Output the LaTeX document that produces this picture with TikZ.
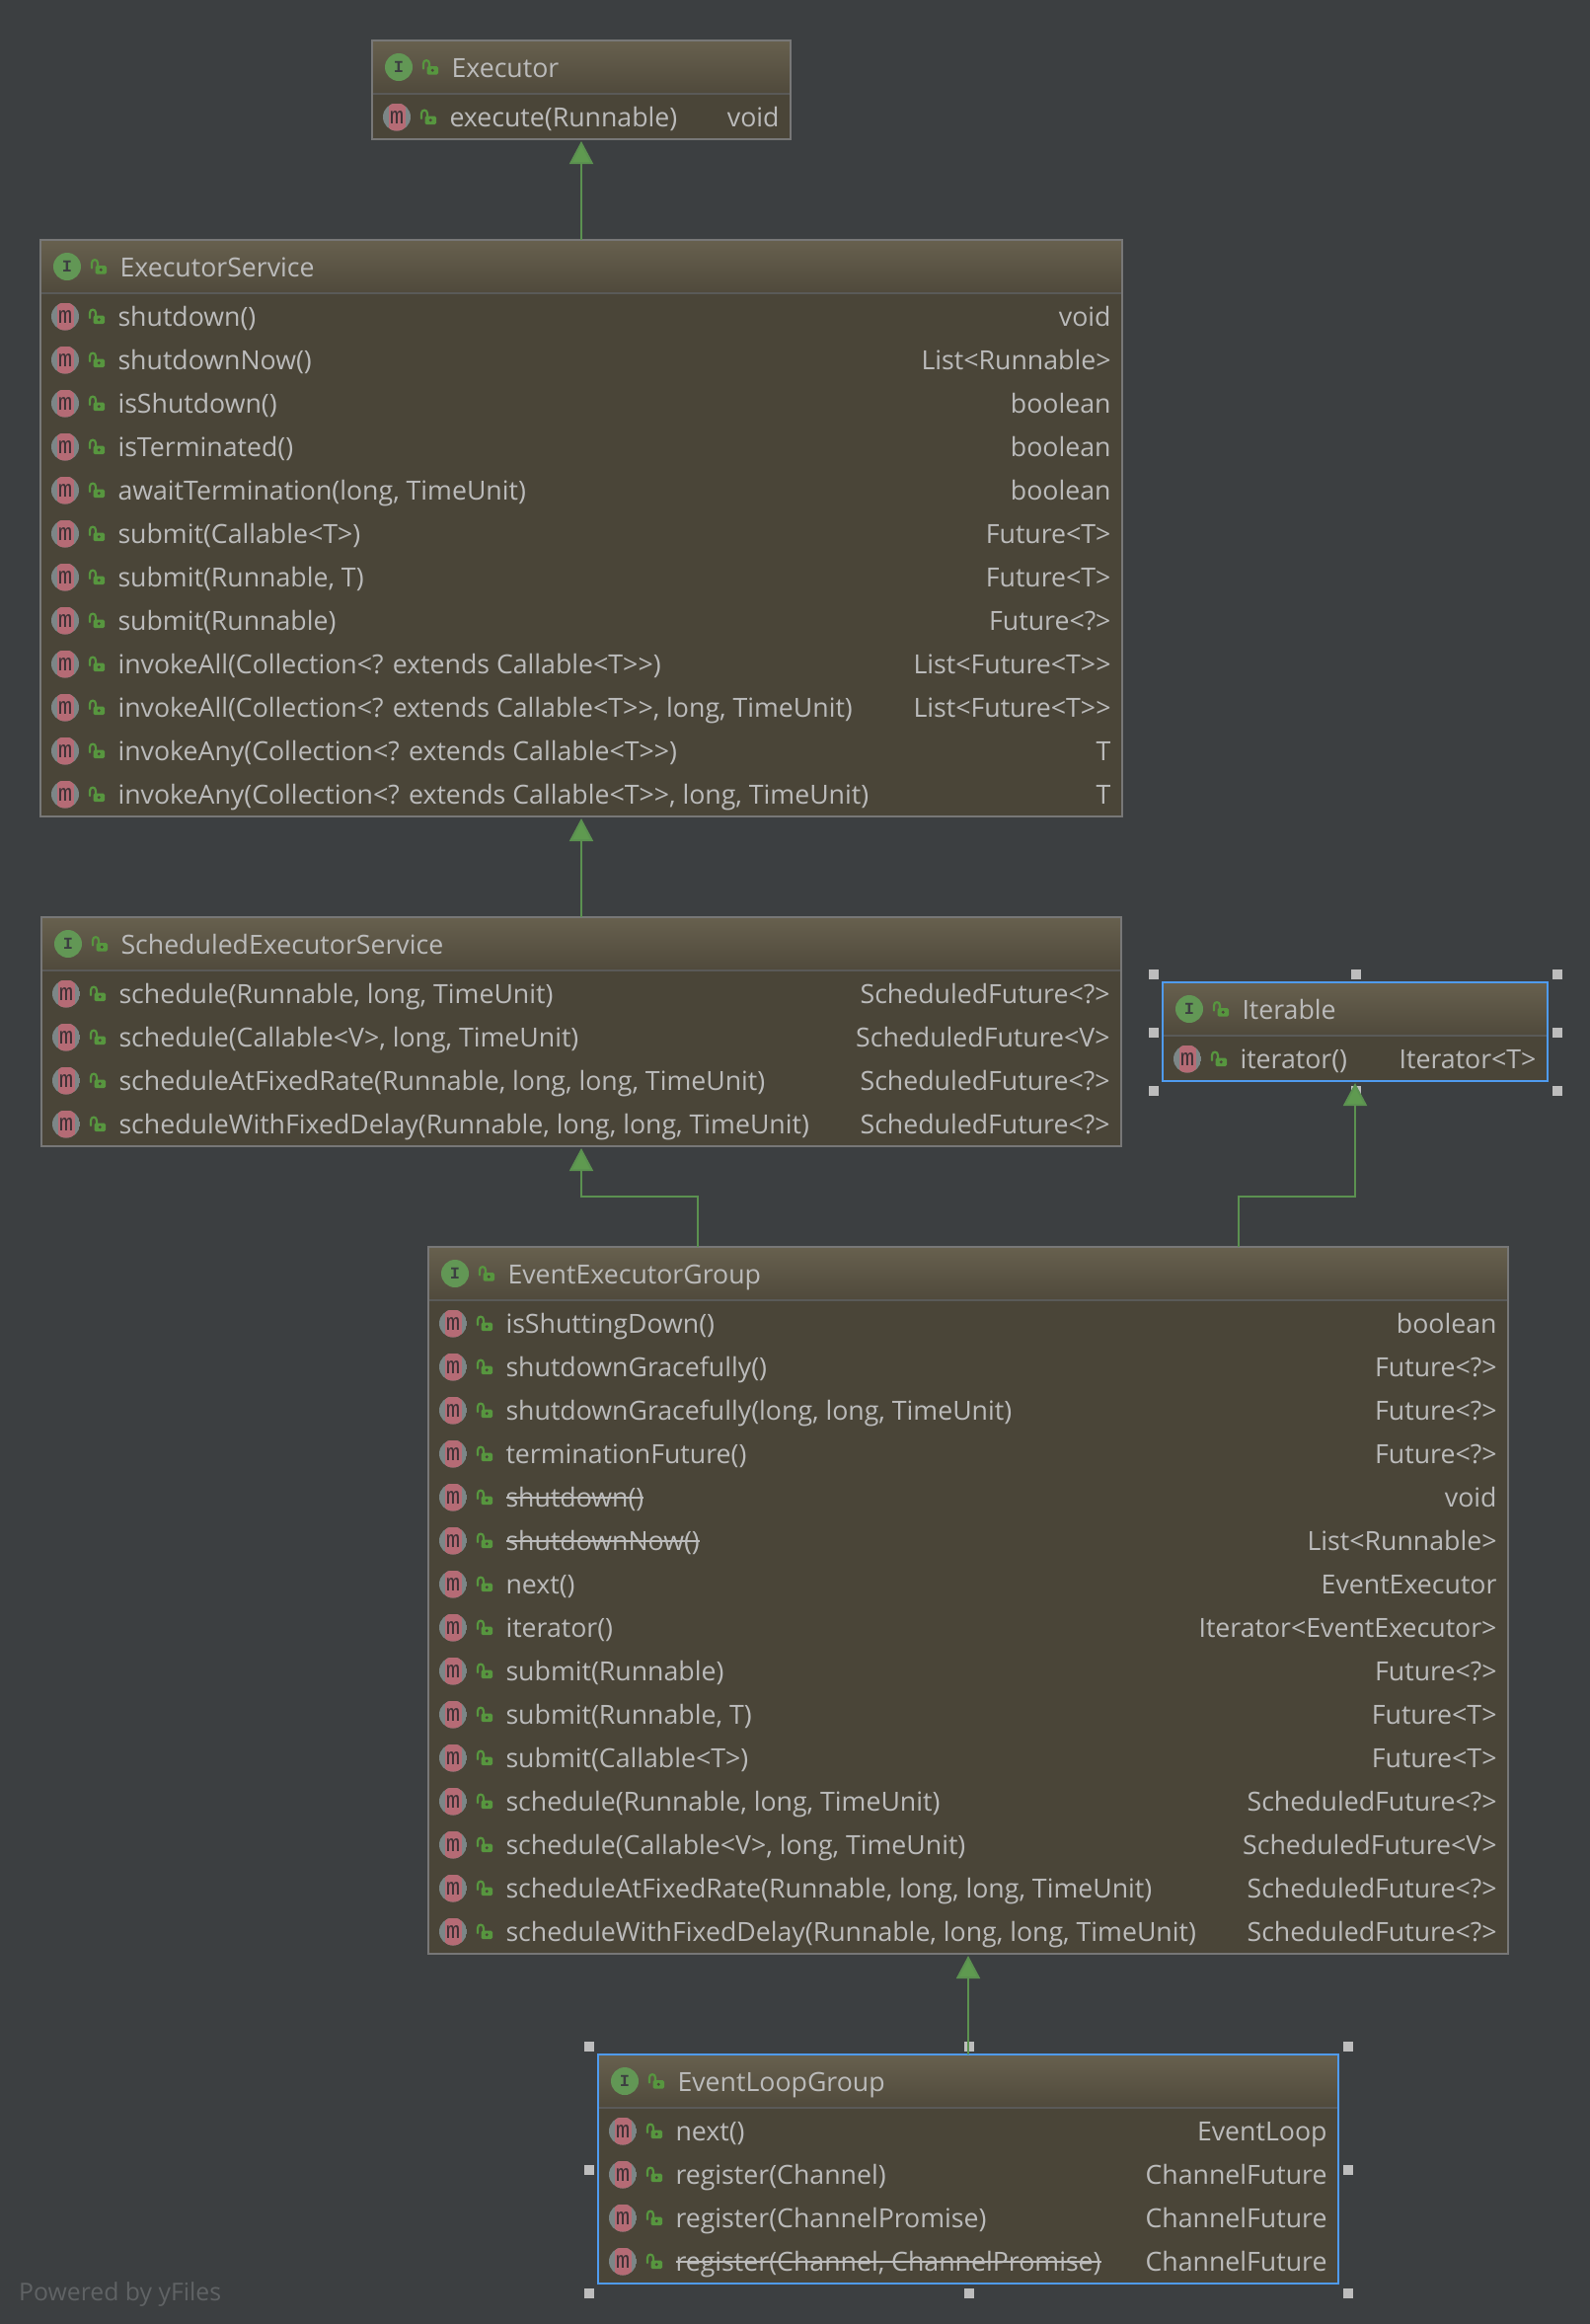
\documentclass[tikz,border=0pt]{standalone}
\usepackage{fontspec}
\setmainfont{Liberation Sans}
\newfontfamily\umlfont{Open Sans}
\newfontfamily\iconfont{Liberation Mono}
\usetikzlibrary{arrows.meta,calc}
\definecolor{bgc}{HTML}{3C3F41}
\definecolor{bodyc}{HTML}{4A4538}
\definecolor{headt}{HTML}{67604E}
\definecolor{headb}{HTML}{504A3C}
\definecolor{borderc}{HTML}{777777}
\definecolor{sepc}{HTML}{5A5A58}
\definecolor{selc}{HTML}{4F9BEF}
\definecolor{txtc}{HTML}{BBBBBB}
\definecolor{inhc}{HTML}{5B9150}
\definecolor{tipc}{HTML}{5F9A50}
\definecolor{lockc}{HTML}{57963F}
\definecolor{mgray}{HTML}{7C8687}
\definecolor{mpink}{HTML}{B56B75}
\definecolor{mdark}{HTML}{3F3236}
\definecolor{igreen}{HTML}{629755}
\definecolor{wmc}{HTML}{606365}
\definecolor{handc}{HTML}{BDBDBD}
\tikzset{
  x=1pt,y=-1pt,
  boxframe/.style={draw=borderc,line width=2pt,fill=bodyc,rectangle,inner sep=0pt,outer sep=0pt,anchor=north west},
  boxsel/.style={draw=selc},
  boxframeonly/.style={draw=borderc,line width=2pt,rectangle,inner sep=0pt,outer sep=0pt,anchor=north west},
  headfill/.style={rectangle,inner sep=0pt,outer sep=0pt,anchor=north west,top color=headt,bottom color=headb,draw=none},
  umltext/.style={text=txtc,inner sep=0pt,outer sep=0pt,font=\umlfont\fontsize{26.7}{30}\selectfont},
  handle/.style={rectangle,fill=handc,draw=none,minimum size=10pt,inner sep=0pt},
  inh/.style={draw=inhc,line width=2pt,shorten >=2pt,-{Triangle[length=23pt,width=24pt,fill=tipc]}},
  strike/.style={draw=txtc,line width=1.6pt},
}
\newcommand{\umlbox}[7]{%
  \pgfmathsetmacro{\boxw}{#3-#2}%
  \pgfmathsetmacro{\boxh}{56+44*#5}%
  \node[boxframe,minimum width=\boxw pt,minimum height=\boxh pt] (#1) at (#2,#4) {};
  \node[headfill,minimum width=\boxw pt,minimum height=53pt] (#1head) at (#1.north west) {};
  \draw[sepc,line width=2pt] ([yshift=-54pt]#1.north west) -- ([yshift=-54pt]#1.north east);
  \node[boxframeonly,#7,minimum width=\boxw pt,minimum height=\boxh pt] (#1frame) at (#2,#4) {};
  \node[circle,fill=igreen,minimum size=28pt,inner sep=0pt] (#1ic) at ([shift={(27,27)}]#1.north west) {};
  \node[inner sep=0pt,text=bgc,font=\iconfont\bfseries\fontsize{17}{17}\selectfont] (#1icl) at (#1ic) {I};
  \lockicon{#1.north west}{59}{27}
  \node[umltext,anchor=base west] (#1title) at ([shift={(80.5,37)}]#1.north west) {#6};
}
\newcommand{\lockicon}[3]{%
  \begin{scope}[shift={(#1)},shift={(#2,#3)}]
    \draw[lockc,line width=2.2pt,line cap=round] (-7,1.5) -- (-7,-3.5) .. controls (-7,-8) and (-1,-8) .. (-1,-3.5) -- (-1,0);
    \fill[lockc,rounded corners=1.5pt] (-3.5,-1) rectangle (8,7.5);
    \fill[bodyc] (2.2,3.2) circle (1.6pt);
  \end{scope}
}
\newcommand{\umlrow}[4]{%
  \pgfmathsetmacro{\rowc}{54+44*#2+23.5}%
  \pgfmathsetmacro{\rowb}{54+44*#2+33}%
  \begin{scope}
    \clip ([shift={(25,\rowc)}]#1.north west) circle (14pt);
    \fill[mgray] ([shift={(11,\rowc-14)}]#1.north west) rectangle ([shift={(39,\rowc+14)}]#1.north west);
    \fill[mpink] ([shift={(16.5,\rowc-14)}]#1.north west) rectangle ([shift={(34,\rowc+14)}]#1.north west);
  \end{scope}
  \node[inner sep=0pt,anchor=base,text=mdark,font=\iconfont\fontsize{24}{24}\selectfont] (#1m#2) at ([shift={(25,\rowb-3)}]#1.north west) {m};
  \lockicon{#1.north west}{57}{\rowc}
  \node[umltext,anchor=base west] (#1a#2) at ([shift={(78.5,\rowb)}]#1.north west) {#3};
  \node[umltext,anchor=base east] (#1b#2) at ([shift={(-11.5,\rowb)}]#1.north east) {#4};
}
\newcommand{\strikerow}[2]{\draw[strike] ([yshift=9pt]#1a#2.base west) -- ([yshift=9pt]#1a#2.base east);}
\newcommand{\handles}[1]{%
  \node[handle] (#1h1) at ([shift={(-9,-8)}]#1.north west) {};
  \node[handle] (#1h2) at ([shift={(0.5,-8)}]#1.north) {};
  \node[handle] (#1h3) at ([shift={(10,-8)}]#1.north east) {};
  \node[handle] (#1h4) at ([shift={(-9,1)}]#1.west) {};
  \node[handle] (#1h5) at ([shift={(10,1)}]#1.east) {};
  \node[handle] (#1h6) at ([shift={(-9,10)}]#1.south west) {};
  \node[handle] (#1h7) at ([shift={(0.5,10)}]#1.south) {};
  \node[handle] (#1h8) at ([shift={(10,10)}]#1.south east) {};
}
\begin{document}
\begin{tikzpicture}
\useasboundingbox (0,0) rectangle (1610,2354);
\fill[bgc] (-3,-3) rectangle (1613,2357);

\umlbox{ex}{377}{801}{41}{1}{Executor}{}
\umlrow{ex}{0}{execute(Runnable)}{void}

\umlbox{es}{41}{1137}{243}{12}{ExecutorService}{}
\umlrow{es}{0}{shutdown()}{void}
\umlrow{es}{1}{shutdownNow()}{List<Runnable>}
\umlrow{es}{2}{isShutdown()}{boolean}
\umlrow{es}{3}{isTerminated()}{boolean}
\umlrow{es}{4}{awaitTermination(long, TimeUnit)}{boolean}
\umlrow{es}{5}{submit(Callable<T>)}{Future<T>}
\umlrow{es}{6}{submit(Runnable, T)}{Future<T>}
\umlrow{es}{7}{submit(Runnable)}{Future<?>}
\umlrow{es}{8}{invokeAll(Collection<? extends Callable<T>>)}{List<Future<T>>}
\umlrow{es}{9}{invokeAll(Collection<? extends Callable<T>>, long, TimeUnit)}{List<Future<T>>}
\umlrow{es}{10}{invokeAny(Collection<? extends Callable<T>>)}{T}
\umlrow{es}{11}{invokeAny(Collection<? extends Callable<T>>, long, TimeUnit)}{T}

\umlbox{ses}{42}{1136}{929}{4}{ScheduledExecutorService}{}
\umlrow{ses}{0}{schedule(Runnable, long, TimeUnit)}{ScheduledFuture<?>}
\umlrow{ses}{1}{schedule(Callable<V>, long, TimeUnit)}{ScheduledFuture<V>}
\umlrow{ses}{2}{scheduleAtFixedRate(Runnable, long, long, TimeUnit)}{ScheduledFuture<?>}
\umlrow{ses}{3}{scheduleWithFixedDelay(Runnable, long, long, TimeUnit)}{ScheduledFuture<?>}

\umlbox{it}{1178}{1568}{995}{1}{Iterable}{boxsel}
\umlrow{it}{0}{iterator()}{Iterator<T>}
\handles{it}

\umlbox{eeg}{434}{1528}{1263}{15}{EventExecutorGroup}{}
\umlrow{eeg}{0}{isShuttingDown()}{boolean}
\umlrow{eeg}{1}{shutdownGracefully()}{Future<?>}
\umlrow{eeg}{2}{shutdownGracefully(long, long, TimeUnit)}{Future<?>}
\umlrow{eeg}{3}{terminationFuture()}{Future<?>}
\umlrow{eeg}{4}{shutdown()}{void}
\strikerow{eeg}{4}
\umlrow{eeg}{5}{shutdownNow()}{List<Runnable>}
\strikerow{eeg}{5}
\umlrow{eeg}{6}{next()}{EventExecutor}
\umlrow{eeg}{7}{iterator()}{Iterator<EventExecutor>}
\umlrow{eeg}{8}{submit(Runnable)}{Future<?>}
\umlrow{eeg}{9}{submit(Runnable, T)}{Future<T>}
\umlrow{eeg}{10}{submit(Callable<T>)}{Future<T>}
\umlrow{eeg}{11}{schedule(Runnable, long, TimeUnit)}{ScheduledFuture<?>}
\umlrow{eeg}{12}{schedule(Callable<V>, long, TimeUnit)}{ScheduledFuture<V>}
\umlrow{eeg}{13}{scheduleAtFixedRate(Runnable, long, long, TimeUnit)}{ScheduledFuture<?>}
\umlrow{eeg}{14}{scheduleWithFixedDelay(Runnable, long, long, TimeUnit)}{ScheduledFuture<?>}

\umlbox{elg}{606}{1356}{2081}{4}{EventLoopGroup}{boxsel}
\umlrow{elg}{0}{next()}{EventLoop}
\umlrow{elg}{1}{register(Channel)}{ChannelFuture}
\umlrow{elg}{2}{register(ChannelPromise)}{ChannelFuture}
\umlrow{elg}{3}{register(Channel, ChannelPromise)}{ChannelFuture}
\strikerow{elg}{3}
\handles{elg}

\node[anchor=base west,inner sep=0pt,text=wmc,font=\umlfont\fontsize{24.8}{28}\selectfont] (wm) at (19,2330) {Powered by yFiles};

\coordinate (eegl) at ([xshift=-274pt]eeg.north);
\coordinate (eegr) at ([xshift=274pt]eeg.north);
\draw[inh] (es.north) -- (ex.south);
\draw[inh] (ses.north) -- (es.south);
\draw[inh] (eegl) |- (589,1212) -- (ses.south);
\draw[inh] (eegr) |- (1373,1212) -- (it.south);
\draw[inh] (elg.north) -- (eeg.south);
\end{tikzpicture}
\end{document}
